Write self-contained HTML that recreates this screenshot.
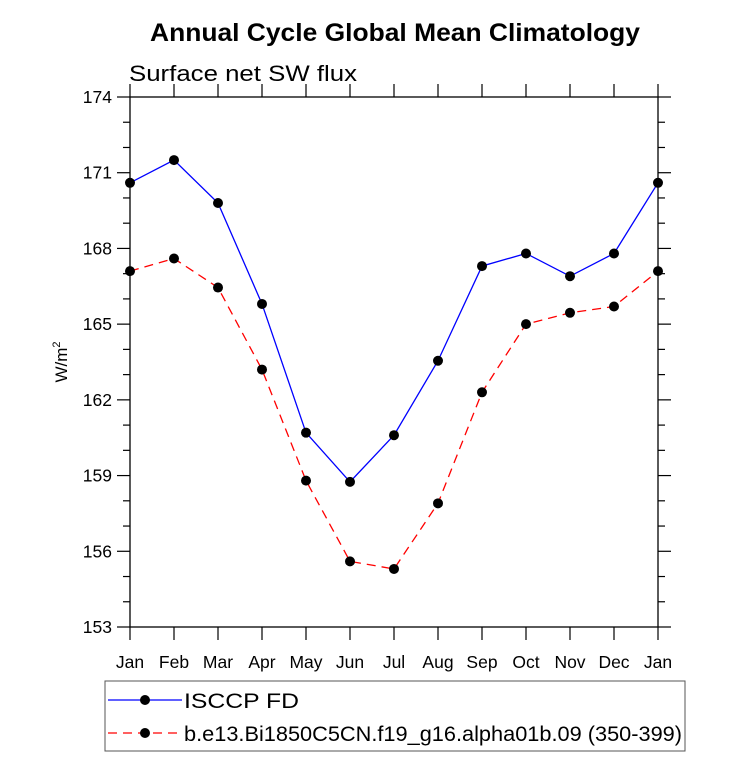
<!DOCTYPE html>
<html><head><meta charset="utf-8"><style>
body{margin:0;background:#fff;}
svg text{font-family:"Liberation Sans",sans-serif;}
</style></head><body>
<svg id="chart" width="733" height="757" xmlns="http://www.w3.org/2000/svg">
<text x="150" y="41" font-size="25" font-weight="bold" textLength="490" lengthAdjust="spacingAndGlyphs">Annual Cycle Global Mean Climatology</text>
<text x="129" y="81" font-size="22" textLength="228" lengthAdjust="spacingAndGlyphs">Surface net SW flux</text>
<text transform="translate(67,362) rotate(-90)" text-anchor="middle" font-size="17">W/m<tspan font-size="11" dy="-7">2</tspan></text>
<g id="axes"></g>
<g id="series"></g>
<g>
<rect x="105" y="681" width="580" height="70" fill="none" stroke="#555" stroke-width="1"/>
<line x1="108" y1="700" x2="182" y2="700" stroke="#0000ff" stroke-width="1.3"/>
<circle cx="145" cy="700" r="5" fill="#000"/>
<text x="184" y="708" font-size="21" textLength="115" lengthAdjust="spacingAndGlyphs">ISCCP FD</text>
<line x1="108" y1="733" x2="182" y2="733" stroke="#ff0000" stroke-width="1.3" stroke-dasharray="9,6"/>
<circle cx="145" cy="733" r="5" fill="#000"/>
<text x="184" y="741" font-size="21" textLength="498" lengthAdjust="spacingAndGlyphs">b.e13.Bi1850C5CN.f19_g16.alpha01b.09 (350-399)</text>
</g>
</svg>
<script>
const months = ["Jan","Feb","Mar","Apr","May","Jun","Jul","Aug","Sep","Oct","Nov","Dec","Jan"];
const isccp = [170.6,171.5,169.8,165.8,160.7,158.75,160.6,163.55,167.3,167.8,166.9,167.8,170.6];
const model = [167.1,167.6,166.45,163.2,158.8,155.6,155.3,157.9,162.3,165.0,165.45,165.7,167.1];
const yTicks = [153,156,159,162,165,168,171,174];
const X0=130,X1=658,Y0=627,Y1=97,YMIN=153,YMAX=174;
const NS="http://www.w3.org/2000/svg";
function xs(i){return X0+(X1-X0)*i/(months.length-1);}
function ys(v){return Y0-(v-YMIN)/(YMAX-YMIN)*(Y0-Y1);}
function mk(tag,attrs,parent){const e=document.createElementNS(NS,tag);for(const k in attrs)e.setAttribute(k,attrs[k]);parent.appendChild(e);return e;}
const ax=document.getElementById('axes');
const frame=mk('rect',{x:X0,y:Y1,width:X1-X0,height:Y0-Y1,fill:'none',stroke:'#000','stroke-width':1.3},ax);


for(let v=YMIN;v<=YMAX;v++){
  const major=yTicks.includes(v);const L=major?13:7;const y=ys(v);
  const t1=mk('line',{x1:X0-L,y1:y,x2:X0,y2:y,stroke:'#000','stroke-width':1.2},ax);
  
  
  const t2=mk('line',{x1:X1,y1:y,x2:X1+L,y2:y,stroke:'#000','stroke-width':1.2},ax);
  
  
  if(major){const tx=mk('text',{x:X0-18,y:y+6,'text-anchor':'end','font-size':17.5},ax);tx.textContent=v;
    
    }
}
months.forEach((m,i)=>{
  const x=xs(i);
  const b=mk('line',{x1:x,y1:Y0,x2:x,y2:Y0+13,stroke:'#000','stroke-width':1.2},ax);
  
  
  const t=mk('line',{x1:x,y1:Y1-13,x2:x,y2:Y1,stroke:'#000','stroke-width':1.2},ax);
  
  
  const tx=mk('text',{x:x,y:668,'text-anchor':'middle','font-size':17.5},ax);tx.textContent=m;
  
  
});
const sg=document.getElementById('series');
function draw(vals,color,dash,name){
  const pts=vals.map((v,i)=>xs(i)+','+ys(v)).join(' ');
  const pl=mk('polyline',{points:pts,fill:'none',stroke:color,'stroke-width':1.3},sg);
  if(dash)pl.setAttribute('stroke-dasharray',dash);
  
  
  vals.forEach((v,i)=>{const c=mk('circle',{cx:xs(i),cy:ys(v),r:5,fill:'#000'},sg);
    
    });
}
draw(isccp,'#0000ff',null,'isccp');
draw(model,'#ff0000','9,6','model');
</script>
</body></html>
